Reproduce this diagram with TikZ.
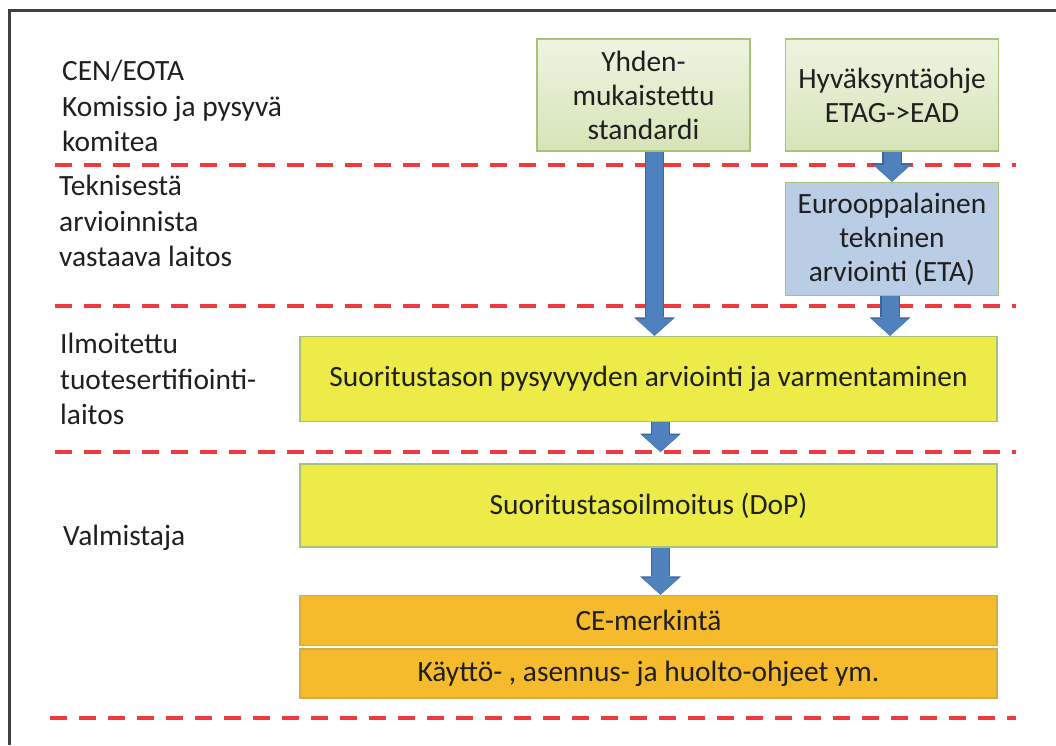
\documentclass[tikz,border=0pt]{standalone}
\usepackage{fontspec}
\setmainfont{Carlito}
\usepackage{xcolor}
\definecolor{colorGreenTop}{HTML}{EEF4E1}
\definecolor{colorGreenBot}{HTML}{D6E4B8}
\definecolor{colorBorder}{HTML}{A9C27A}
\definecolor{colorEta}{HTML}{B9CDE5}
\definecolor{colorYellow}{HTML}{EDEB47}
\definecolor{colorOrange}{HTML}{F5BB2C}
\definecolor{colorOrangeEdge}{HTML}{D2AE45}
\definecolor{colorArrow}{HTML}{4F81BD}
\definecolor{colorArrowEdge}{HTML}{3A679E}
\definecolor{colorSep}{HTML}{F03A3E}
\colorlet{colorText}{black!88}
\usepackage{tikz}
\usetikzlibrary{arrows.meta, positioning}
\tikzset{
  box/.style={draw=colorBorder, line width=1.5pt, inner sep=0pt, align=center, text=colorText, font=\fontsize{29.4}{34}\selectfont},
  greenbox/.style={box, top color=colorGreenTop, bottom color=colorGreenBot, minimum width=213pt, minimum height=112pt},
  lbl/.style={anchor=north west, inner sep=0pt, align=left, text=colorText, font=\fontsize{29.4}{35.5}\selectfont},
  sep/.style={draw=colorSep, line width=4pt, dash pattern=on 17pt off 12pt},
  blockarrow/.style={draw=colorArrow, line width=17pt, -{Triangle[length=17pt, width=38pt, line width=0pt]},
    preaction={draw=colorArrowEdge, line width=19.5pt, -{Triangle[length=18.5pt, width=41pt, line width=0pt]}}}
}
\begin{document}
\begin{tikzpicture}[x=1pt, y=-1pt]
\useasboundingbox (0,0) rectangle (1056,745);
\draw[black!75, line width=3pt] (9,745) -- (9,10) -- (1056,10);
\coordinate (sep1) at (55,165);
\coordinate (sep2) at (55,306);
\coordinate (sep3) at (55,452);
\coordinate (sep4) at (50,718);
\draw[sep] (sep1) -- (1016,165);
\draw[sep] (sep2) -- (1016,306);
\draw[sep] (sep3) -- (1016,452);
\draw[sep] (sep4) -- (1016,718);
\node[lbl] (cen) at (62,60) {CEN/EOTA\\Komissio ja pysyvä\\komitea};
\node[lbl] (tab) at (59,175) {Teknisestä\\arvioinnista\\vastaava laitos};
\node[lbl] (nb) at (60,333) {Ilmoitettu\\tuotesertifiointi-\\laitos};
\node[lbl] (valm) at (63,525) {Valmistaja};
\node[greenbox] (std) at (643.5,95) {Yhden-\\mukaistettu\\standardi};
\node[greenbox, right=34pt of std] (ead) {Hyväksyntäohje\\ETAG->EAD};
\node[box, fill=colorEta, minimum width=213pt, minimum height=113pt, below=30pt of ead] (eta) {Eurooppalainen\\tekninen\\arviointi (ETA)};
\node[box, fill=colorYellow, minimum width=697pt, minimum height=85pt] (avcp) at (648.5,379) {Suoritustason pysyvyyden arviointi ja varmentaminen};
\node[box, fill=colorYellow, minimum width=697pt, minimum height=83pt, below=41pt of avcp] (dop) {Suoritustasoilmoitus (DoP)};
\node[box, draw=colorOrangeEdge, fill=colorOrange, minimum width=697pt, minimum height=50pt, below=47pt of dop] (ce) {CE-merkintä};
\node[box, draw=colorOrangeEdge, fill=colorOrange, minimum width=697pt, minimum height=49pt, below=2pt of ce] (ohj) {Käyttö- , asennus- ja huolto-ohjeet ym.};
\draw[blockarrow] ([xshift=11]std.south) -- ([xshift=11]std.south |- avcp.north);
\draw[blockarrow] (ead.south) -- (eta.north);
\draw[blockarrow] ([xshift=-2]eta.south) -- ([xshift=-2]eta.south |- avcp.north);
\draw[blockarrow] ([xshift=12]avcp.south) -- ([xshift=12]avcp.south |- sep3);
\draw[blockarrow] ([xshift=12]dop.south) -- ([xshift=12]dop.south |- ce.north);
\end{tikzpicture}
\end{document}
